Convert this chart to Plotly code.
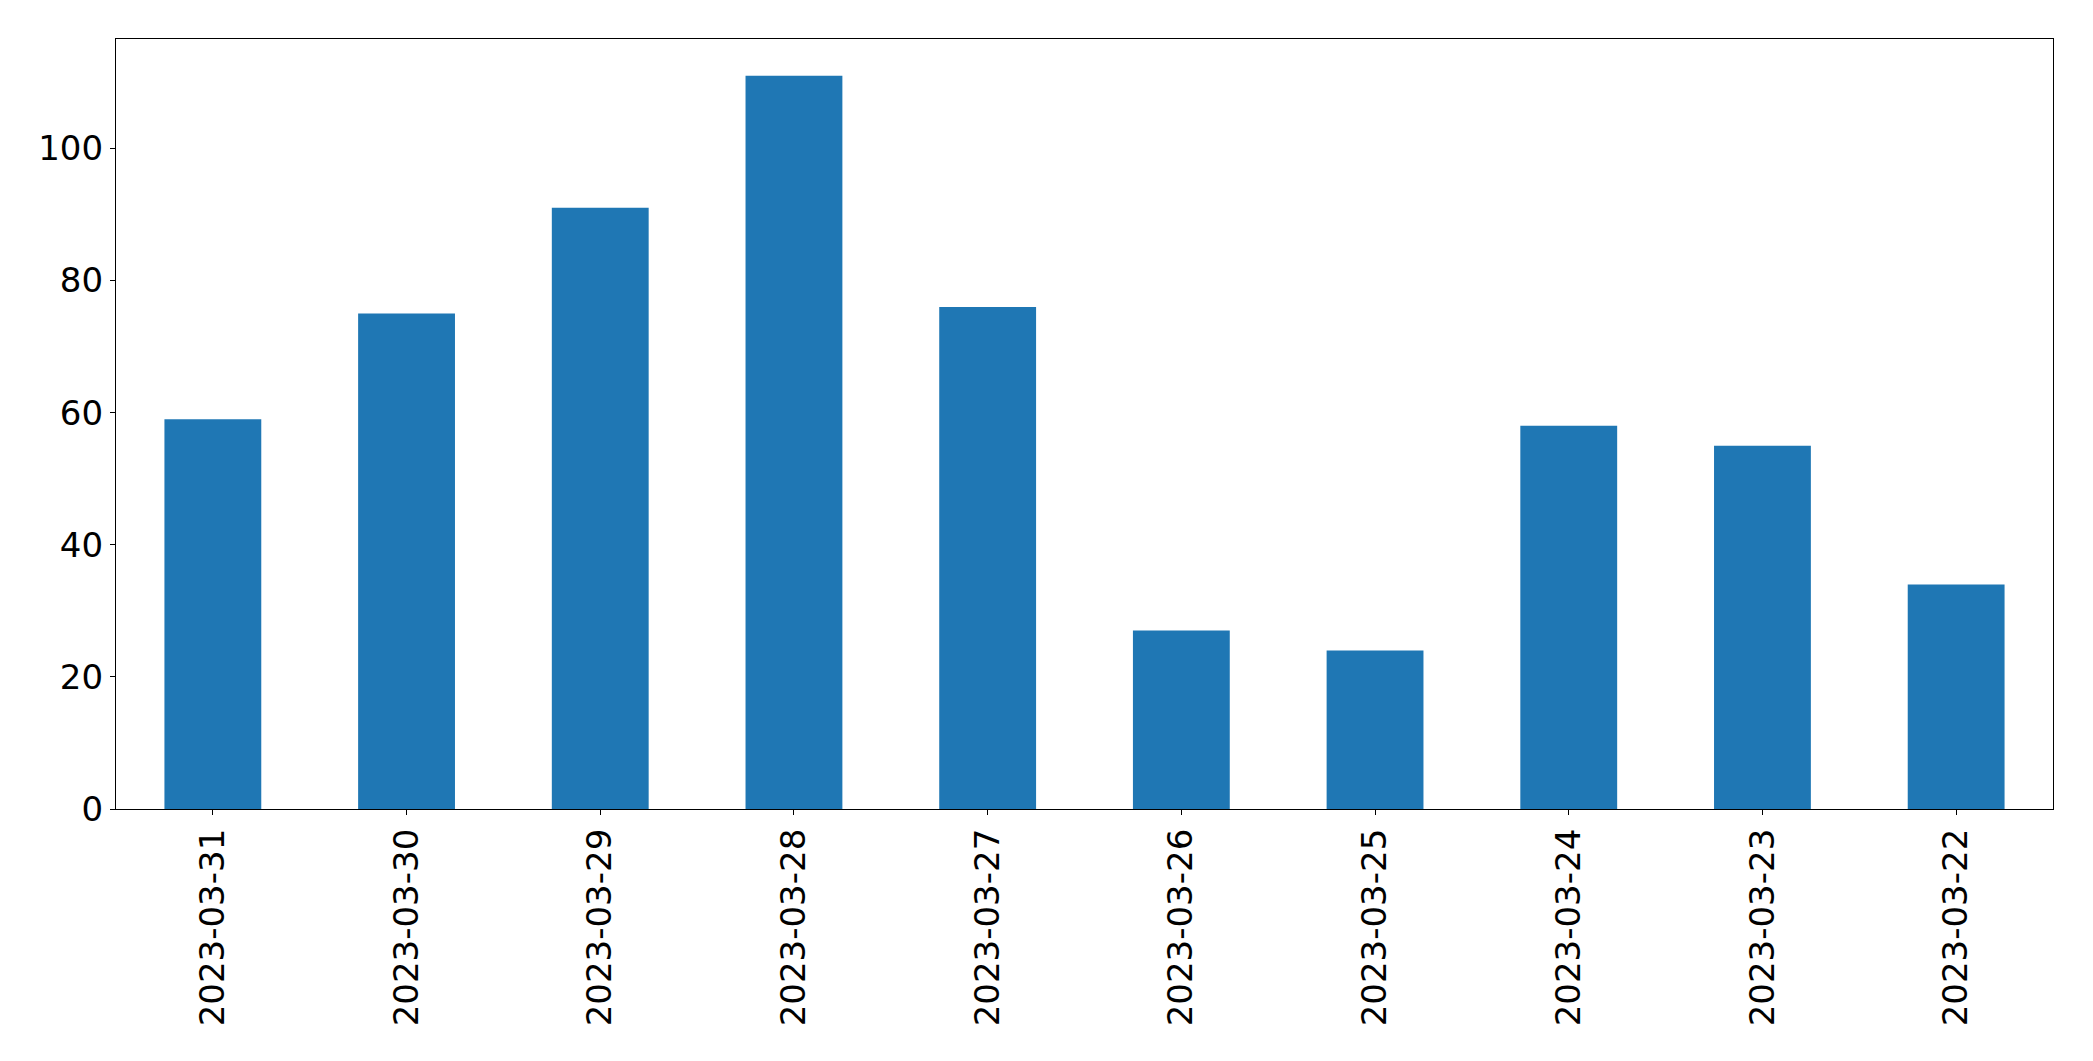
import plotly.graph_objects as go

dates = ["2023-03-31", "2023-03-30", "2023-03-29", "2023-03-28", "2023-03-27",
         "2023-03-26", "2023-03-25", "2023-03-24", "2023-03-23", "2023-03-22"]
counts = [59, 75, 91, 111, 76, 27, 24, 58, 55, 34]
y_ticks = [0, 20, 40, 60, 80, 100]

fig = go.Figure(go.Bar(x=dates, y=counts, width=0.5,
                       marker=dict(color="#1f77b4", line=dict(width=0))))

fig.update_layout(
    width=2093, height=1061,
    margin=dict(l=116, r=40, t=39, b=252),
    paper_bgcolor="white", plot_bgcolor="white",
    font=dict(family="DejaVu Sans", size=34, color="black"),
    showlegend=False,
)
fig.update_xaxes(type="category", range=[-0.5, 9.5], tickangle=-90,
                 showline=True, linecolor="black", linewidth=1.3, mirror=True,
                 ticks="outside", ticklen=5, tickwidth=1.3, tickcolor="black",
                 showgrid=False, zeroline=False)
fig.update_yaxes(range=[0, max(counts) * 1.05], tickvals=y_ticks,
                 showline=True, linecolor="black", linewidth=1.3, mirror=True,
                 ticks="outside", ticklen=5, tickwidth=1.3, tickcolor="black",
                 showgrid=False, zeroline=False)

fig.write_html("out.html")
